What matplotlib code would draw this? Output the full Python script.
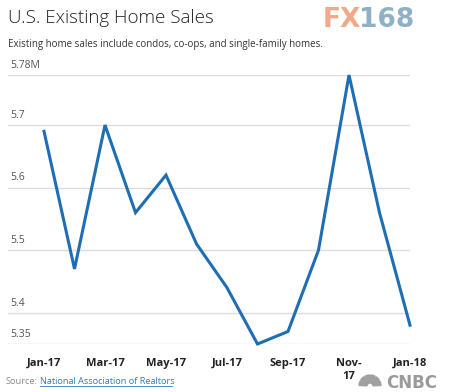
import matplotlib
matplotlib.use("Agg")
import matplotlib.pyplot as plt
import matplotlib.transforms as mtransforms
from matplotlib.patches import Wedge

# data (millions, SAAR)
months = ["Jan-17", "Feb-17", "Mar-17", "Apr-17", "May-17", "Jun-17", "Jul-17",
          "Aug-17", "Sep-17", "Oct-17", "Nov-17", "Dec-17", "Jan-18"]
sales = [5.69, 5.47, 5.70, 5.56, 5.62, 5.51, 5.44, 5.35, 5.37, 5.50, 5.78, 5.56, 5.38]
tick_labels = ["Jan-17", "Mar-17", "May-17", "Jul-17", "Sep-17", "Nov-\n17", "Jan-18"]
y_ticks = [5.35, 5.4, 5.5, 5.6, 5.7, 5.78]
y_tick_labels = ["5.35", "5.4", "5.5", "5.6", "5.7", "5.78M"]

plt.rcParams['font.family'] = ['Open Sans', 'DejaVu Sans']

fig = plt.figure(figsize=(4.5, 3.92), dpi=100)
fig.patch.set_facecolor('white')
ax = fig.add_axes([8 / 450, 1 - 344 / 392, 402 / 450, 269 / 392])

x = list(range(len(sales)))
ax.plot(x, sales, color='#1f6eb4', linewidth=2.2, clip_on=False,
        solid_joinstyle='miter', zorder=3)

ax.set_xlim(-36 / 30.5, 12)
ax.set_ylim(y_ticks[0], y_ticks[-1])

# gridlines + labels sitting above each line
for v in y_ticks:
    ax.axhline(v, color='#dcdcdc', linewidth=1, zorder=1)
trans = mtransforms.blended_transform_factory(ax.transAxes, ax.transData)
for v, lab in zip(y_ticks, y_tick_labels):
    ax.annotate(lab, (0, v), xycoords=trans, xytext=(2, 3), textcoords='offset points',
                fontsize=7.5, color='#555555', ha='left', va='bottom')

ax.set_yticks([])
ax.set_xticks(x[::2])
ax.set_xticklabels(tick_labels, fontsize=8, fontweight='bold', color='#222222',
                   linespacing=1.25)
ax.tick_params(axis='x', length=0, pad=10)
for s in ax.spines.values():
    s.set_visible(False)

# title block
fig.text(8 / 450, 1 - 18 / 392, "U.S. Existing Home Sales", fontsize=13.5,
         fontweight='light', color='#222222', ha='left', va='center')
fig.text(8 / 450, 1 - 44 / 392,
         "Existing home sales include condos, co-ops, and single-family homes.",
         fontsize=7, color='#333333', ha='left', va='center')

# FX168 watermark
fig.text(323 / 450, 1 - 20 / 392, "FX", fontsize=19, fontweight='bold',
         color='#f2a98a', ha='left', va='center', family='DejaVu Sans')
fig.text(359 / 450, 1 - 20 / 392, "168", fontsize=19, fontweight='bold',
         color='#8fb1c6', ha='left', va='center', family='DejaVu Sans')

# source line
fig.text(6 / 450, 1 - 381 / 392, "Source:", fontsize=6.7, color='#8a8a8a',
         ha='left', va='center')
fig.text(40 / 450, 1 - 381 / 392, "National Association of Realtors", fontsize=6.6,
         color='#2b7cc3', ha='left', va='center')
fig.add_artist(plt.Line2D([40 / 450, 172 / 450], [1 - 386 / 392, 1 - 386 / 392],
                          color='#2b7cc3', linewidth=0.6))

# CNBC mark: small peacock fan + wordmark
logo_ax = fig.add_axes([355 / 450, 1 - 392 / 392, 30 / 450, 18 / 392])
logo_ax.set_xlim(-15, 15)
logo_ax.set_ylim(-4, 14)
logo_ax.axis('off')
for i in range(6):
    a0 = 180 - (i + 1) * 30
    logo_ax.add_patch(Wedge((0, 2), 11, a0 + 3, a0 + 27, width=8,
                            color='#a0a0a0'))
fig.text(437 / 450, 1 - 383 / 392, "CNBC", fontsize=12, fontweight='bold',
         color='#9a9a9a', ha='right', va='center', family='DejaVu Sans')

fig.savefig("out.png", dpi=100, facecolor='white')
